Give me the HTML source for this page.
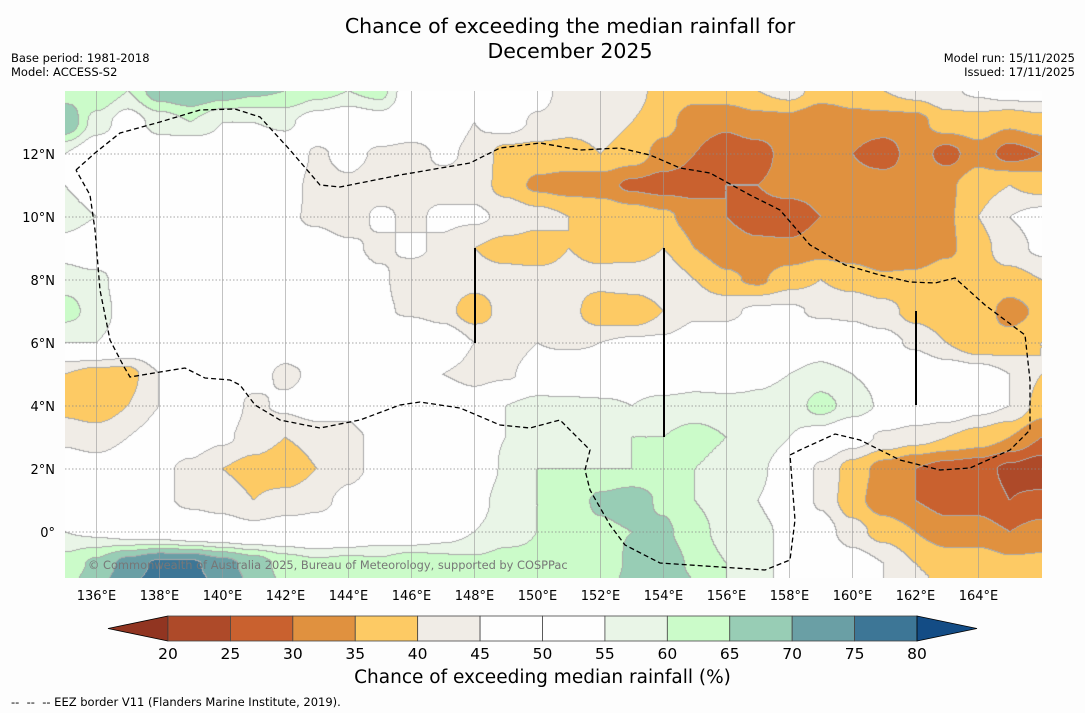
<!DOCTYPE html>
<html><head><meta charset="utf-8">
<style>
body{margin:0;background:#fdfdfd;font-family:"DejaVu Sans","Liberation Sans",sans-serif;}
#wrap{position:relative;width:1085px;height:713px;overflow:hidden;background:#fdfdfd}
.t{position:absolute;white-space:nowrap;color:#000}
</style></head><body>
<div id="wrap">
<div class="t" style="left:0;width:1140px;text-align:center;top:14px;font-size:20.5px;line-height:25px">Chance of exceeding the median rainfall for<br>December 2025</div>
<div class="t" style="left:11px;top:51px;font-size:11.5px;line-height:14px">Base period: 1981-2018<br>Model: ACCESS-S2</div>
<div class="t" style="right:10px;top:51px;font-size:11.5px;line-height:14px;text-align:right">Model run: 15/11/2025<br>Issued: 17/11/2025</div>
<canvas id="map" width="977" height="487" style="position:absolute;left:65px;top:91px"></canvas>
<svg id="ov" width="1085" height="713" style="position:absolute;left:0;top:0"></svg>
<div class="t" style="left:88px;top:558px;font-size:11.4px;color:#777">© Commonwealth of Australia 2025, Bureau of Meteorology, supported by COSPPac</div>
<div class="t" style="left:0;width:1085px;text-align:center;top:667px;font-size:18.5px">Chance of exceeding median rainfall (%)</div>
<div class="t" style="left:11px;top:695px;font-size:11.5px">--&nbsp; --&nbsp; -- EEZ border V11 (Flanders Marine Institute, 2019).</div>
</div>
<script>
const lons=[135,136,137,138,139,140,141,142,143,144,145,146,147,148,149,150,151,152,153,154,155,156,157,158,159,160,161,162,163,164,165,166];
const lats=[14,13,12,11,10,9,8,7,6,5,4,3,2,1,0,-1,-2];
const r14=[62,65,60,68,70,68,66,65,62,60,62,50,50,50,48,48,42,44,42,38,37,38,40,42,38,38,40,42,44,46,48,48];
const r13=[70,58,52,57,60,55,55,56,52,50,52,50,48,45,48,44,42,42,40,37,32,31,33,33,30,33,33,33,38,38,36,38];
const r12=[55,50,49,51,48,52,49,51,44,47,44,43,46,44,38,38,38,40,38,33,30,27,28,32,33,30,27,33,28,33,28,30];
const r11=[55,51,49,47,51,51,49,48,43,44,42,44,43,43,38,34,33,32,29,28,28,30,30,32,32,32,33,33,34,38,40,38];
const r10=[58,55,52,51,49,51,48,46,44,42,46,44,46,46,44,42,40,40,38,36,33,30,28,27,30,30,30,30,34,40,45,47];
const r9=[52,48,51,49,51,52,48,47,48,46,44,46,44,40,38,37,40,38,37,40,35,32,31,31,33,32,30,32,34,38,43,46];
const r8=[58,57,51,49,51,48,51,49,46,48,46,42,43,42,42,42,42,42,44,44,40,36,34,38,40,38,36,36,38,38,38,40];
const r7=[62,58,52,51,49,51,48,48,49,47,46,44,42,37,42,43,42,36,35,40,44,44,46,46,44,44,42,38,36,38,33,36];
const r6=[55,55,52,51,48,47,51,48,49,51,52,55,51,45,42,45,44,45,46,46,48,48,51,49,51,48,47,44,40,36,37,40];
const r5=[40,38,38,45,48,48,47,44,46,48,52,51,45,43,44,48,51,49,51,49,52,51,54,55,57,55,53,51,49,48,45,40];
const r4=[38,36,40,45,52,48,44,46,48,46,51,49,52,49,55,57,56,56,55,57,57,57,56,57,62,58,54,52,51,47,45,38];
const r3=[44,43,45,48,48,46,43,40,42,44,46,48,48,52,55,57,58,58,60,60,62,60,58,55,52,48,44,42,40,38,35,30];
const r2=[48,47,48,46,44,40,38,36,40,44,46,46,51,49,56,60,60,60,60,62,60,58,56,52,44,38,33,30,28,27,24,22];
const r1=[51,49,48,46,44,43,40,42,44,46,48,47,48,52,58,60,62,66,68,64,60,57,55,52,44,37,32,30,28,28,25,26];
const r0=[55,54,52,51,49,48,47,48,47,48,51,49,52,55,58,60,62,64,65,66,62,58,56,54,48,42,38,35,32,32,30,32];
const rm1=[62,66,72,76,76,72,68,63,61,62,61,64,62,61,62,61,62,61,66,68,64,60,56,54,52,48,45,40,38,38,36,36];
const rm2=[64,70,76,78,78,75,70,65,62,64,62,64,64,62,64,62,64,62,68,70,66,60,56,54,52,48,45,42,40,40,38,38];
const grid=[r14,r13,r12,r11,r10,r9,r8,r7,r6,r5,r4,r3,r2,r1,r0,rm1,rm2];
const levels=[20,25,30,35,40,45,50,55,60,65,70,75,80];
const colors=["#913521","#ae4a29","#c9612f","#e0913f","#fdca64","#f0ece6","#fefefe","#fefefe","#e9f5e7","#cbfbc9","#98cdb5","#6a9fa5","#3d7696","#134c85"];
const lonTicks=[136,138,140,142,144,146,148,150,152,154,156,158,160,162,164];
const latTicks=[12,10,8,6,4,2,0];
const X0=65,Y0=91,PPD=31.5,LON0=135,LAT0=14;
const xOf=lon=>X0+(lon-LON0)*PPD, yOf=lat=>Y0+(LAT0-lat)*PPD;
function cls(v){let i=0;while(i<levels.length&&v>=levels[i])i++;return i;}
function hex(c){return [parseInt(c.substr(1,2),16),parseInt(c.substr(3,2),16),parseInt(c.substr(5,2),16)];}
const rgb=colors.map(hex);
const cv=document.getElementById('map'),ctx=cv.getContext('2d');
const W=cv.width,H=cv.height,img=ctx.createImageData(W,H),cl=new Int8Array(W*H);
for(let py=0;py<H;py++){const lat=LAT0-(py+0.5)/PPD;let fy=(lats[0]-lat);let iy=Math.min(Math.floor(fy),lats.length-2);let ty=fy-iy;
 for(let px=0;px<W;px++){const lon=LON0+(px+0.5)/PPD;let fx=lon-lons[0];let ix=Math.min(Math.floor(fx),lons.length-2);let tx=fx-ix;
  const sx=tx*tx*(3-2*tx),sy=ty*ty*(3-2*ty);
  const a=grid[iy][ix],b=grid[iy][ix+1],c=grid[iy+1][ix],d=grid[iy+1][ix+1];
  const v=a*(1-sx)*(1-sy)+b*sx*(1-sy)+c*(1-sx)*sy+d*sx*sy;cl[py*W+px]=cls(v);}}
for(let i=0;i<W*H;i++){const k=cl[i];let col=rgb[k];const x=i%W;
 const n1=(x<W-1)?cl[i+1]:k,n2=(i+W<W*H)?cl[i+W]:k;
 if(colors[n1]!==colors[k]||colors[n2]!==colors[k])col=[170,170,170];
 img.data[i*4]=col[0];img.data[i*4+1]=col[1];img.data[i*4+2]=col[2];img.data[i*4+3]=255;}
ctx.putImageData(img,0,0);
const NS='http://www.w3.org/2000/svg',svg=document.getElementById('ov');
function mk(t,at){const e=document.createElementNS(NS,t);for(const k in at)e.setAttribute(k,at[k]);svg.appendChild(e);return e;}
lonTicks.forEach(l=>{const x=xOf(l);
 const g=mk('line',{x1:x,y1:91,x2:x,y2:578,stroke:'#999','stroke-width':0.6});
 
 
 const t=mk('text',{x:x,y:600,'text-anchor':'middle','font-size':13,'font-family':'DejaVu Sans, sans-serif'});t.textContent=l+'°E';
 
 });
latTicks.forEach(l=>{const y=yOf(l);
 const g=mk('line',{x1:65,y1:y,x2:1042,y2:y,stroke:'#888','stroke-width':0.7,'stroke-dasharray':'1.5,2'});
 
 
 const t=mk('text',{x:55,y:y+5,'text-anchor':'end','font-size':13,'font-family':'DejaVu Sans, sans-serif'});t.textContent=l===0?'0°':l+'°N';
 
 });
const eez=[[76,170],[95,153],[120,133],[160,122],[200,110],[235,109],[260,117],[290,150],[320,185],[340,187],[400,175],[470,163],[500,148],[540,143],[580,150],[620,148],[650,155],[680,168],[710,173],[750,195],[780,210],[810,245],[845,265],[880,275],[910,282],[935,283],[955,278],[985,305],[1025,335],[1030,380],[1030,430],[1010,450],[970,468],[940,470],[900,460],[860,440],[835,434],[800,450],[790,455],[795,520],[790,560],[765,570],[660,563],[625,545],[610,525],[590,490],[585,470],[590,450],[560,420],[530,428],[500,425],[460,408],[420,402],[400,405],[360,420],[320,428],[280,420],[255,405],[240,385],[230,380],[205,378],[185,368],[160,372],[130,377],[123,365],[110,340],[100,290],[95,230],[90,195],[76,170]];
const ez=mk('polyline',{points:eez.map(p=>p.join(',')).join(' '),fill:'none',stroke:'#000','stroke-width':1.3,'stroke-dasharray':'5,3'});


[[475,248,343],[664,248,437],[916,311,405]].forEach(s=>{const l=mk('line',{x1:s[0],y1:s[1],x2:s[0],y2:s[2],stroke:'#000','stroke-width':2});
 
 });
const cbx=168,cbw=(917-168)/12,cby=616,cbh=25;
const lt=mk('polygon',{points:`108,${cby+cbh/2} ${cbx},${cby} ${cbx},${cby+cbh}`,fill:colors[0],stroke:'#000','stroke-width':0.8});


for(let i=0;i<12;i++){const r=mk('rect',{x:cbx+i*cbw,y:cby,width:cbw,height:cbh,fill:colors[i+1],stroke:'#444','stroke-width':0.8});
 
 }
const rt=mk('polygon',{points:`${cbx+12*cbw},${cby} 977,${cby+cbh/2} ${cbx+12*cbw},${cby+cbh}`,fill:colors[13],stroke:'#000','stroke-width':0.8});


levels.forEach((v,i)=>{const t=mk('text',{x:cbx+i*cbw,y:659,'text-anchor':'middle','font-size':15.5,'font-family':'DejaVu Sans, sans-serif'});t.textContent=v;
 
 });
</script>
</body></html>
